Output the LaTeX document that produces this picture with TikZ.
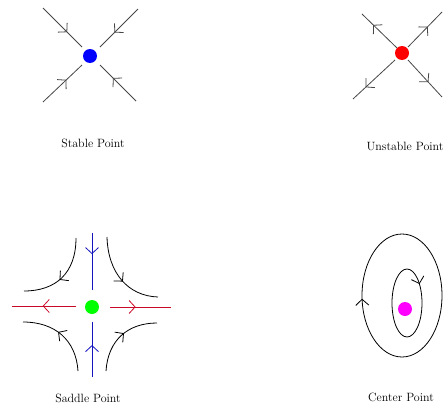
\documentclass[tikz,border=0pt]{standalone}
\usepackage{xcolor}
\usepackage{tikz}
\usetikzlibrary{arrows.meta,decorations.markings,calc}
\definecolor{flowgray}{RGB}{70,70,70}
\definecolor{saddleblue}{RGB}{20,20,190}
\definecolor{saddlered}{RGB}{200,10,40}
\definecolor{centremagenta}{RGB}{255,0,255}
\tikzset{
  flow/.style={
    draw=flowgray,
    line width=0.8pt,
  },
  midarrow/.style={
    postaction={decorate},
    decoration={markings,
      mark=at position #1 with {\arrow{Straight Barb[length=6pt,width=13pt,line width=0.8pt]}}}
  },
  fixpt/.style={
    shape = circle,
    inner sep = 0pt,
    minimum size = 14pt,
    fill = #1
  },
  caption/.style={
    font=\fontsize{12}{14}\selectfont,
    inner sep = 0pt
  }
}

\begin{document}
\begin{tikzpicture}[x=1pt,y=-1pt]
        \useasboundingbox (0,0) rectangle (445,407);
        % stable
        \node[fixpt=blue] (stable) at (90,56) {};
        \draw[flow,midarrow=0.62] (43,8) -- (82,47);
        \draw[flow,midarrow=0.62] (138,9) -- (100,47);
        \draw[flow,midarrow=0.6] (43,102) -- (82,65);
        \draw[flow,midarrow=0.64] (136,101) -- (100,65);
        \node[caption] (stablelbl) at (93,143) {Stable Point};
        % unstable
        \node[fixpt=red] (unstable) at (402,53) {};
        \draw[flow,midarrow=0.68] (397,48) -- (362,14);
        \draw[flow,midarrow=0.58] (408,47) -- (442,12);
        \draw[flow,midarrow=0.7] (395,60) -- (353,99);
        \draw[flow,midarrow=0.6] (408,60) -- (442,97);
        \node[caption] (unstablelbl) at (405,146) {Unstable Point};
        % saddle
        \node[fixpt=green] (saddle) at (92,307) {};
        \draw[flow,draw=saddleblue,midarrow=0.37] (92,233) -- (92,290);
        \draw[flow,draw=saddleblue,midarrow=0.58] (92,377) -- (92,322);
        \draw[flow,draw=saddlered,midarrow=0.52] (76,306) -- (12,306);
        \draw[flow,draw=saddlered,midarrow=0.42] (110,307) -- (171,307);
        \draw[flow,draw=black,midarrow=0.55] (76,238) .. controls (76,273) and (56,291) .. (24,291);
        \draw[flow,draw=black,midarrow=0.55] (107,237) .. controls (108,273) and (128,296) .. (158,297);
        \draw[flow,draw=black,midarrow=0.55] (78,371) .. controls (76,340) and (55,322) .. (23,322);
        \draw[flow,draw=black,midarrow=0.55] (106,371) .. controls (108,340) and (128,323) .. (157,323);
        \node[caption] (saddlelbl) at (88,398) {Saddle Point};
        % center
        \node[fixpt=centremagenta] (centre) at (405,309) {};
        \draw[flow,draw=black,midarrow=0.49] (402,295.5) ellipse [x radius=40, y radius=61.5];
        \draw[flow,draw=black,midarrow=0.88] (407,303) ellipse [x radius=15, y radius=34];
        \node[caption] (centrelbl) at (401,397) {Center Point};
\end{tikzpicture}
\end{document}
